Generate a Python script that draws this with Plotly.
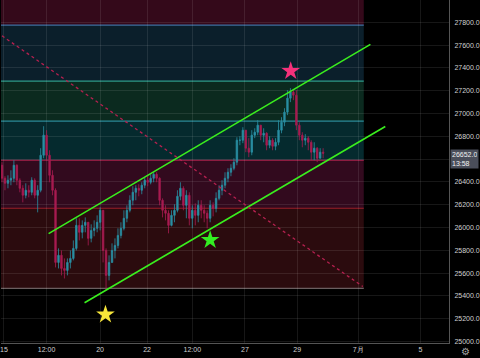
import plotly.graph_objects as go

# ---------------- data ----------------
bar_index = list(range(109))
open_ = [26546,26432,26388,26415,26432,26546,26415,26344,26283,26327,
         26309,26415,26283,26327,26634,26810,26634,26458,26327,25694,
         25756,25641,25624,25694,25729,25817,26019,25958,26019,26046,
         25905,25975,25993,26046,26151,25799,25580,25694,25799,25843,
         25931,25993,26081,26151,26239,26309,26344,26327,26371,26415,
         26397,26432,26467,26432,26239,26151,26125,26019,26107,26151,
         26274,26344,26195,26283,26081,26151,26107,26195,26151,26125,
         26081,26195,26168,26256,26327,26371,26432,26485,26520,26573,
         26766,26766,26854,26696,26661,26810,26836,26898,26810,26827,
         26722,26766,26713,26748,26854,26924,27012,27135,27188,27161,
         26898,26810,26766,26784,26748,26661,26696,26608,26661]
high = [26573,26450,26458,26502,26590,26555,26432,26371,26388,26371,
        26441,26432,26371,26696,26889,26854,26678,26502,26344,25817,
        25799,25729,25729,25799,25887,26081,26081,26063,26089,26046,
        26028,26063,26107,26177,26151,25817,25756,25861,25905,25993,
        26046,26151,26195,26283,26362,26371,26379,26397,26441,26450,
        26467,26485,26485,26441,26256,26195,26151,26151,26204,26327,
        26397,26362,26327,26309,26195,26212,26239,26239,26195,26151,
        26239,26221,26309,26371,26415,26485,26520,26555,26608,26792,
        26801,26880,26854,26784,26854,26871,26942,26898,26871,26836,
        26801,26784,26784,26942,26968,27047,27205,27223,27214,27205,
        26924,26836,26819,26801,26766,26748,26705,26696,26696]
low = [26397,26327,26344,26371,26397,26371,26309,26221,26256,26265,
       26283,26256,26133,26309,26608,26590,26397,26283,25650,25641,
       25580,25553,25580,25641,25712,25799,25887,25905,25958,25843,
       25870,25923,25958,25975,25694,25448,25536,25694,25729,25817,
       25905,25975,26046,26133,26195,26239,26274,26292,26344,26362,
       26379,26397,26397,26195,26089,26063,25949,26010,26046,26133,
       26239,26151,26081,26019,25993,26019,26046,26081,26046,25993,
       26046,26098,26133,26239,26283,26344,26397,26450,26502,26546,
       26722,26740,26661,26617,26634,26784,26810,26766,26748,26678,
       26696,26678,26678,26722,26827,26889,26986,27100,27117,26854,
       26766,26704,26722,26678,26590,26590,26573,26608,26608]
close = [26432,26388,26415,26432,26546,26415,26344,26283,26327,26309,
         26415,26283,26327,26634,26810,26634,26458,26327,25694,25756,
         25641,25624,25694,25729,25817,26019,25958,26019,26046,25905,
         25975,25993,26046,26151,25799,25580,25694,25799,25843,25931,
         25993,26081,26151,26239,26309,26344,26327,26371,26415,26397,
         26432,26467,26432,26239,26151,26125,26019,26107,26151,26274,
         26344,26195,26283,26081,26151,26107,26195,26151,26125,26081,
         26195,26168,26256,26327,26371,26432,26485,26520,26573,26766,
         26766,26854,26696,26661,26810,26836,26898,26810,26827,26722,
         26766,26713,26748,26854,26924,27012,27135,27188,27161,26898,
         26810,26766,26784,26748,26661,26696,26608,26661,26652]

tick_pos = [0.67, 15, 33, 48.8, 64, 81.7, 99.3, 119.8, 140.7]
tick_text = ["15", "12:00", "20", "22", "12:00", "27", "29", "7月", "5"]

price_ticks = list(range(25000, 28001, 200))
# the 26600 label sits behind the last-price tag in the reference
price_tick_text = ["" if p == 26600 else f"{p}.0" for p in price_ticks]

# Fibonacci zones (level boundaries, top to bottom)
fib_levels = [28100, 27776, 27284, 26933, 26590, 26169, 25466]
fib_fill = ["#34091a", "#0b1f2b", "#0b2a1f", "#052a2e", "#320a1e", "#2b0b0e"]
fib_line = [None, "#3f6f9f", "#2e9c8a", "#2b8b9b", "#b0224e", "#9c1f2b", "#6b5e60"]
fib_start, fib_end = -1, 121.67

# drawings
channel_upper_x = [15.67, 123.9]
channel_upper_y = [25946, 27607]
channel_lower_x = [27.77, 128.9]
channel_lower_y = [25340, 26886]
trend_x = [0, 121.33]
trend_y = [27682, 25483]

star_x = [97.1, 70.0, 34.8]
star_y = [27373, 25890, 25236]
star_colors = ["#f5317a", "#33ee22", "#f7e63a"]

last_price = 26652
countdown = "13:58"

# ---------------- figure ----------------
fig = go.Figure()

fig.add_trace(go.Candlestick(
    x=bar_index, open=open_, high=high, low=low, close=close,
    increasing=dict(line=dict(color="#2a8fa3", width=0.8), fillcolor="#2a8fa3"),
    decreasing=dict(line=dict(color="#a81c50", width=0.8), fillcolor="#a81c50"),
    whiskerwidth=0, hoverinfo="skip", showlegend=False,
))

for lx, ly in [(channel_upper_x, channel_upper_y), (channel_lower_x, channel_lower_y)]:
    fig.add_trace(go.Scatter(x=lx, y=ly, mode="lines",
                             line=dict(color="#3aee1e", width=1.6),
                             hoverinfo="skip", showlegend=False))

fig.add_trace(go.Scatter(x=trend_x, y=trend_y, mode="lines",
                         line=dict(color="#b5204f", width=1.3, dash="dot"),
                         hoverinfo="skip", showlegend=False))

fig.add_trace(go.Scatter(x=star_x, y=star_y, mode="markers",
                         marker=dict(symbol="star", size=14, color=star_colors,
                                     line=dict(width=0)),
                         hoverinfo="skip", showlegend=False))

shapes = []
for k in range(len(fib_fill)):
    shapes.append(dict(type="rect", xref="x", yref="y", x0=fib_start, x1=fib_end,
                       y0=fib_levels[k + 1], y1=fib_levels[k],
                       fillcolor=fib_fill[k], line=dict(width=0), layer="below"))
for k in range(1, len(fib_levels)):
    shapes.append(dict(type="line", xref="x", yref="y", x0=fib_start, x1=fib_end,
                       y0=fib_levels[k], y1=fib_levels[k],
                       line=dict(color=fib_line[k], width=1.2), layer="below"))

fig.update_layout(
    width=480, height=358,
    margin=dict(l=0, r=28, t=0, b=15),
    paper_bgcolor="#000000", plot_bgcolor="#000000",
    shapes=shapes,
    font=dict(family="Liberation Sans, Arial, sans-serif", size=7, color="#d0d0d0"),
    xaxis=dict(range=[-0.333, 150.33], rangeslider=dict(visible=False),
               tickmode="array", tickvals=tick_pos, ticktext=tick_text,
               ticklabeloverflow="allow",
               showgrid=True, gridcolor="rgba(255,255,255,0.09)", gridwidth=1,
               zeroline=False, showline=True, linecolor="#555555", linewidth=1,
               ticks="", tickfont=dict(size=7, color="#d0d0d0")),
    yaxis=dict(range=[24987, 27996], side="right",
               tickmode="array", tickvals=price_ticks, ticktext=price_tick_text,
               showgrid=True, gridcolor="rgba(255,255,255,0.09)", gridwidth=1,
               zeroline=False, showline=True, linecolor="#555555", linewidth=1,
               ticks="", ticklabelstandoff=3, tickfont=dict(size=7, color="#d0d0d0")),
    annotations=[
        dict(xref="paper", yref="y", x=1, y=last_price, xanchor="left", yanchor="top",
             yshift=4, xshift=1, text=f"{last_price}.0<br>{countdown}", showarrow=False,
             align="left", bgcolor="#4a4e5a", borderpad=1,
             font=dict(size=7, color="#f0f0f0"), width=25),
        dict(xref="paper", yref="paper", x=1, y=0, xanchor="left", yanchor="top",
             xshift=10, yshift=-1, text="⚙", showarrow=False,
             font=dict(size=10, color="#aaaaaa")),
    ],
)

fig.write_html("out.html", config={"displayModeBar": False},
               post_script="document.body.style.margin='0';document.body.style.overflow='hidden';")
